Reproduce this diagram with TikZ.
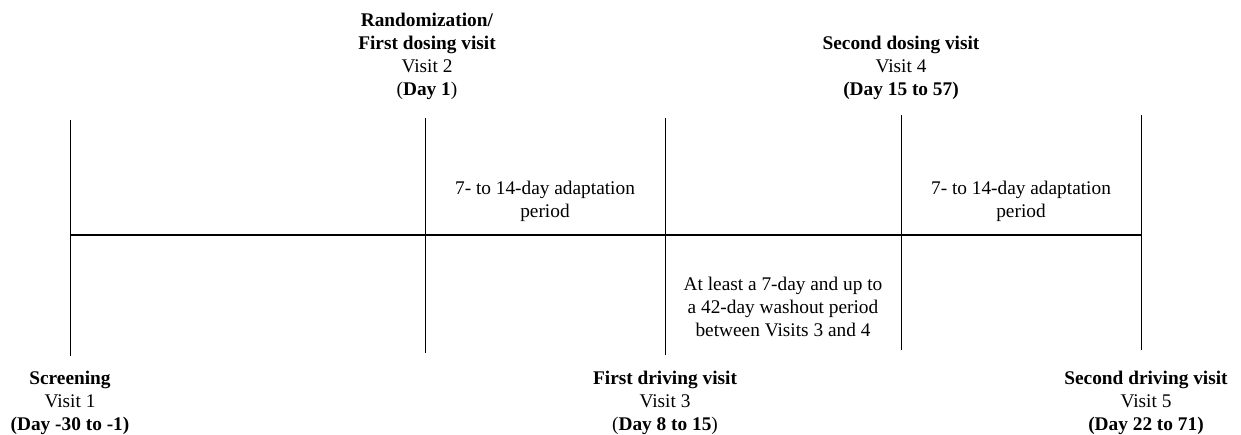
\documentclass[tikz,border=0pt]{standalone}
\usepackage{fontspec}
\setmainfont{Liberation Serif}

\tikzset{
    lbl/.style={align=center, inner sep=0pt, font=\fontsize{11}{13}\selectfont},
    tick/.style={line width=0.45pt},
    axis/.style={line width=0.8pt}
}

\begin{document}
\begin{tikzpicture}[x=0.02cm, y=-0.02cm]
    \useasboundingbox (0,0) rectangle (1241,434);

    % visit marks and time axis
    \foreach \n/\x/\t/\b in {1/70/120/356, 2/425/118/353, 3/665/118/355, 4/901/115/350, 5/1141/115/350} {
        \coordinate (top\n) at (\x,\t);
        \coordinate (bot\n) at (\x,\b);
        \coordinate (v\n) at (\x,235);
        \draw[tick] (top\n) -- (bot\n);
    }
    \draw[axis] (v1) -- (v5);

    % visits above the axis
    \node[lbl, anchor=south] (visit2) at (427,100) {\textbf{Randomization/}\\\textbf{First dosing visit}\\Visit 2\\(\textbf{Day 1})};
    \node[lbl, anchor=south] (visit4) at (901,100) {\textbf{Second dosing visit}\\Visit 4\\\textbf{(Day 15 to 57)}};

    % visits below the axis
    \node[lbl, anchor=north] (visit1) at (70,371) {\textbf{Screening}\\Visit 1\\\textbf{(Day -30 to -1)}};
    \node[lbl, anchor=north] (visit3) at (665,371) {\textbf{First driving visit}\\Visit 3\\(\textbf{Day 8 to 15})};
    \node[lbl, anchor=north] (visit5) at (1146,371) {\textbf{Second driving visit}\\Visit 5\\\textbf{(Day 22 to 71)}};

    % periods
    \node[lbl] (adapt1) at (545,201) {7- to 14-day adaptation\\period};
    \node[lbl] (adapt2) at (1021,201) {7- to 14-day adaptation\\period};
    \node[lbl] (washout) at (783,307) {At least a 7-day and up to\\a 42-day washout period\\between Visits 3 and 4};
\end{tikzpicture}
\end{document}
